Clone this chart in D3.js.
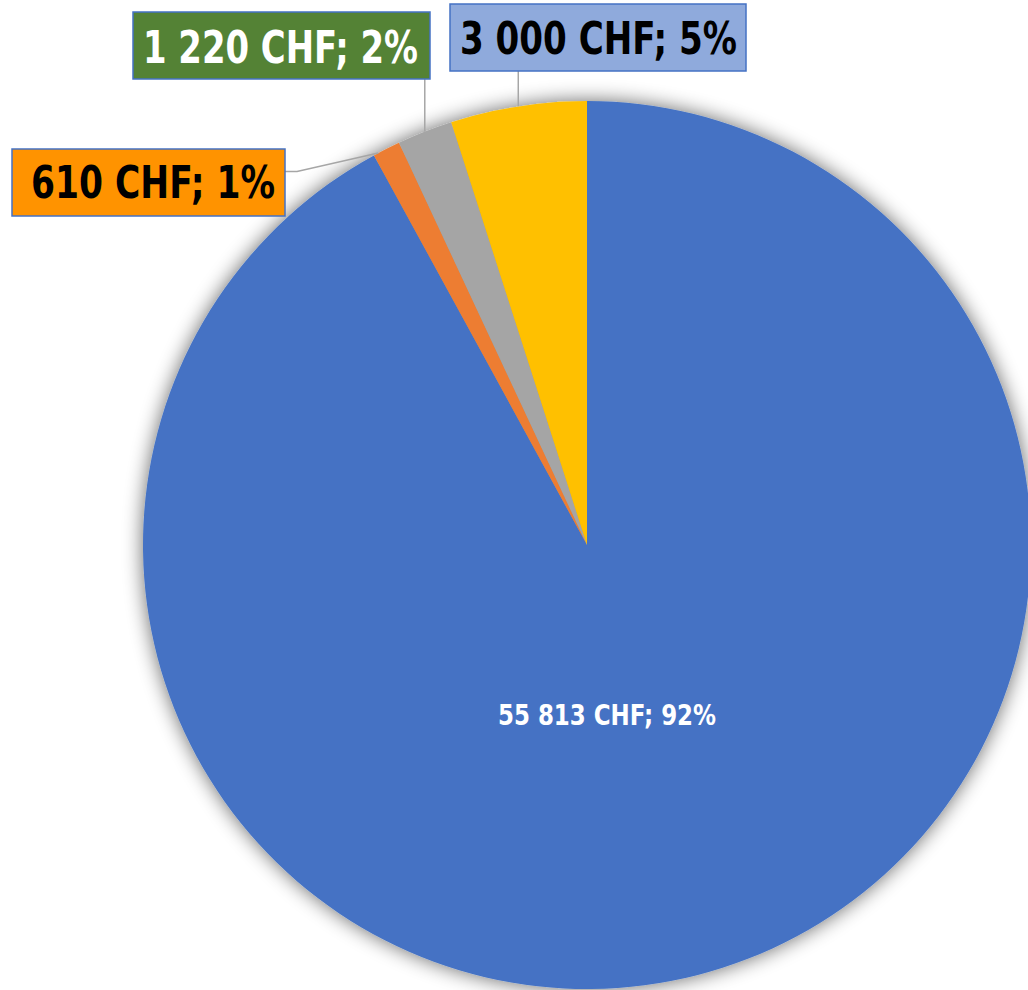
<!DOCTYPE html>
<html>
<head>
<meta charset="utf-8">
<script src="https://cdn.jsdelivr.net/npm/d3@7"></script>
<style>
  html, body { margin: 0; padding: 0; background: #fff; }
  svg { display: block; }
</style>
</head>
<body>
<svg id="chart" width="1028" height="990"></svg>
<script>
// ---- data ----
const categories = ["A", "B", "C", "D"];
const values = [55813, 610, 1220, 3000];
const sliceColors = ["#4472C4", "#ED7D31", "#A5A5A5", "#FFC000"];

// ---- layout / style ----
const W = 1028, H = 990;
const cx = 587, cy = 545, R = 444;
const FONT = "'Liberation Sans Narrow', 'DejaVu Sans Condensed', 'Arial Narrow', sans-serif";

// label box layout per slice (index 0 is inside)
const boxes = [
  null,
  { x: 12,  y: 149, w: 273, h: 67, fill: "#FF9300", text: "#000", tx: 31,  ty: 198, tw: 244, side: true },
  { x: 133, y: 12,  w: 297, h: 67, fill: "#548235", text: "#fff", tx: 143, ty: 63,  tw: 275 },
  { x: 450, y: 4,   w: 296, h: 67, fill: "#8FAADC", text: "#000", tx: 460, ty: 54,  tw: 277 }
];

const svg = d3.select("#chart");
const total = d3.sum(values);
const loc = d3.formatLocale({ decimal: ",", thousands: " ", grouping: [3], currency: ["", ""] });
const fmtNum = loc.format(",d");
const fmtPct = d3.format(".0%");
const labelText = (v) => fmtNum(v) + " CHF; " + fmtPct(v / total);

// shadow filter
const defs = svg.append("defs");
const f = defs.append("filter").attr("id", "shadow")
  .attr("x", "-10%").attr("y", "-10%").attr("width", "120%").attr("height", "120%");
f.append("feGaussianBlur").attr("in", "SourceAlpha").attr("stdDeviation", 10).attr("result", "blur");
f.append("feComponentTransfer").attr("in", "blur").attr("result", "sh")
  .append("feFuncA").attr("type", "linear").attr("slope", 0.6);
const merge = f.append("feMerge");
merge.append("feMergeNode").attr("in", "sh");
merge.append("feMergeNode").attr("in", "SourceGraphic");

const pie = d3.pie().sort(null).value(d => d)(values);
const arc = d3.arc().innerRadius(0).outerRadius(R);

const g = svg.append("g").attr("transform", `translate(${cx},${cy})`);
g.append("g").attr("filter", "url(#shadow)")
  .selectAll("path").data(pie).join("path")
  .attr("d", arc)
  .attr("fill", (d, i) => sliceColors[i]);

// edge point for a slice
function edge(d) {
  const a = (d.startAngle + d.endAngle) / 2;
  return [cx + R * Math.sin(a), cy - R * Math.cos(a)];
}

// leader lines
pie.forEach((d, i) => {
  const b = boxes[i];
  if (!b) return;
  const [ex, ey] = edge(d);
  let pts;
  if (b.side) {
    const my = b.y + b.h / 2 - 11;
    pts = [[ex - 8, ey + 4], [b.x + b.w + 12, my], [b.x + b.w, my]];
  } else {
    pts = [[ex, ey], [ex, b.y + b.h]];
  }
  svg.append("path").attr("d", d3.line()(pts))
    .attr("fill", "none").attr("stroke", "#A6A6A6").attr("stroke-width", 1.5);
});

// label boxes
pie.forEach((d, i) => {
  const b = boxes[i];
  if (!b) return;
  svg.append("rect").attr("x", b.x).attr("y", b.y).attr("width", b.w).attr("height", b.h)
    .attr("fill", b.fill).attr("stroke", "#4472C4").attr("stroke-width", 1.5);
  svg.append("text").attr("x", b.tx).attr("y", b.ty)
    .attr("font-family", FONT).attr("font-weight", "bold").attr("font-size", 45)
    .attr("fill", b.text)
    .attr("textLength", b.tw).attr("lengthAdjust", "spacingAndGlyphs")
    .text(labelText(d.value));
});

// inside label for the big slice
svg.append("text").attr("x", 498).attr("y", 725)
  .attr("font-family", FONT).attr("font-weight", "bold").attr("font-size", 28)
  .attr("fill", "#fff")
  .attr("textLength", 218).attr("lengthAdjust", "spacingAndGlyphs")
  .text(labelText(values[0]));
</script>
</body>
</html>
